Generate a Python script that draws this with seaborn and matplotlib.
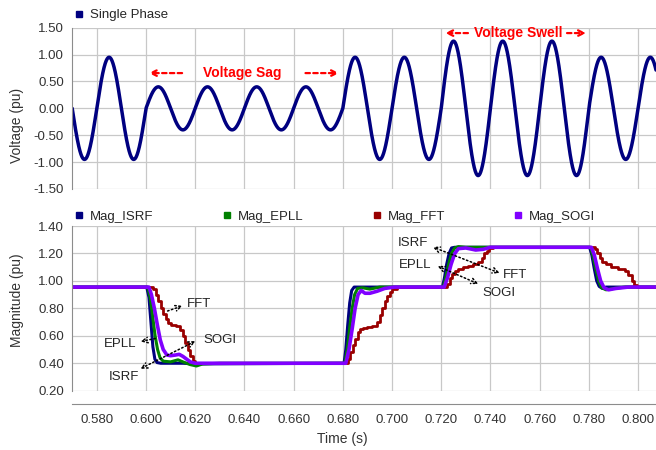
import numpy as np
import matplotlib.pyplot as plt
import seaborn as sns
from matplotlib.lines import Line2D

sns.set_style("white")
plt.rcParams['font.family'] = ['Liberation Sans', 'DejaVu Sans']

# single phase voltage: 50 Hz, amplitude per segment
freq = 50
seg_start = [0.570, 0.600, 0.680, 0.720, 0.780]
seg_amp = [0.95, 0.40, 0.95, 1.25, 0.95]

# magnitude estimates (breakpoints)
t_isrf = [0.570, 0.6003, 0.6012, 0.6020, 0.6028, 0.6036, 0.6045, 0.6060, 0.6150, 0.6200,
          0.6805, 0.6812, 0.6820, 0.6828, 0.6836, 0.6846, 0.6900,
          0.7205, 0.7213, 0.7222, 0.7232, 0.7242, 0.7255,
          0.7803, 0.7812, 0.7822, 0.7832, 0.7842, 0.7855, 0.7870, 0.8073]
m_isrf = [0.955, 0.955, 0.88, 0.70, 0.52, 0.43, 0.405, 0.40, 0.40, 0.395,
          0.40, 0.50, 0.68, 0.84, 0.93, 0.955, 0.955,
          0.955, 1.02, 1.12, 1.20, 1.24, 1.245,
          1.245, 1.19, 1.09, 1.00, 0.96, 0.945, 0.955, 0.955]

t_epll = [0.570, 0.6007, 0.6017, 0.6027, 0.6037, 0.6047, 0.6057, 0.6070, 0.6100, 0.6130,
          0.6150, 0.6180, 0.6205, 0.6230, 0.6300,
          0.6808, 0.6818, 0.6828, 0.6838, 0.6848, 0.6860, 0.6880, 0.6910, 0.6950,
          0.7208, 0.7218, 0.7230, 0.7242, 0.7255, 0.7270, 0.7300,
          0.7806, 0.7816, 0.7828, 0.7840, 0.7852, 0.7870, 0.7900, 0.7950, 0.8073]
m_epll = [0.955, 0.955, 0.88, 0.74, 0.60, 0.50, 0.44, 0.415, 0.41, 0.425,
          0.41, 0.39, 0.38, 0.395, 0.40,
          0.40, 0.50, 0.66, 0.80, 0.90, 0.945, 0.95, 0.94, 0.955,
          0.955, 1.02, 1.12, 1.20, 1.24, 1.25, 1.245,
          1.245, 1.19, 1.09, 1.00, 0.95, 0.935, 0.945, 0.955, 0.955]

t_fft = [0.570, 0.6025, 0.6030, 0.6040, 0.6050, 0.6060, 0.6070, 0.6080, 0.6090, 0.6100,
         0.6120, 0.6140, 0.6150, 0.6160, 0.6170, 0.6180, 0.6190, 0.6200,
         0.6815, 0.6820, 0.6830, 0.6840, 0.6850, 0.6860, 0.6870, 0.6880, 0.6900, 0.6920,
         0.6940, 0.6950, 0.6960, 0.6970, 0.6980, 0.6990, 0.7000, 0.7020,
         0.7225, 0.7235, 0.7245, 0.7255, 0.7270, 0.7290, 0.7310, 0.7330, 0.7350, 0.7365,
         0.7375, 0.7385, 0.7395, 0.7410,
         0.7825, 0.7835, 0.7845, 0.7855, 0.7870, 0.7890, 0.7920, 0.7945, 0.7960, 0.7975,
         0.7985, 0.7995, 0.8073]
m_fft = [0.955, 0.955, 0.94, 0.90, 0.85, 0.80, 0.76, 0.72, 0.69, 0.68,
         0.67, 0.64, 0.60, 0.55, 0.50, 0.45, 0.42, 0.40,
         0.40, 0.43, 0.48, 0.53, 0.58, 0.63, 0.65, 0.66, 0.665, 0.67,
         0.70, 0.75, 0.80, 0.85, 0.89, 0.92, 0.94, 0.955,
         0.98, 1.02, 1.05, 1.07, 1.09, 1.10, 1.11, 1.12, 1.14, 1.17,
         1.20, 1.22, 1.24, 1.245,
         1.23, 1.20, 1.17, 1.14, 1.12, 1.10, 1.09, 1.07, 1.04, 1.00,
         0.97, 0.955, 0.955]

t_sogi = [0.570, 0.6012, 0.6022, 0.6034, 0.6046, 0.6058, 0.6070, 0.6085, 0.6100, 0.6120,
          0.6135, 0.6150, 0.6165, 0.6180, 0.6200,
          0.6812, 0.6825, 0.6838, 0.6850, 0.6862, 0.6875, 0.6890, 0.6910, 0.6940, 0.6970, 0.7010,
          0.7212, 0.7225, 0.7240, 0.7255, 0.7270, 0.7300, 0.7340, 0.7370, 0.7400,
          0.7810, 0.7822, 0.7835, 0.7848, 0.7862, 0.7880, 0.7910, 0.7960, 0.8073]
m_sogi = [0.955, 0.955, 0.90, 0.80, 0.68, 0.57, 0.50, 0.46, 0.455, 0.46,
          0.465, 0.45, 0.43, 0.41, 0.40,
          0.40, 0.50, 0.65, 0.80, 0.90, 0.93, 0.91, 0.91, 0.925, 0.945, 0.955,
          0.955, 1.02, 1.12, 1.20, 1.235, 1.24, 1.225, 1.23, 1.245,
          1.245, 1.19, 1.09, 1.00, 0.95, 0.935, 0.945, 0.955, 0.955]

names = ["Mag_ISRF", "Mag_EPLL", "Mag_FFT", "Mag_SOGI"]
colors = ["#000080", "#008000", "#990000", "#8000FF"]

x_ticks = np.arange(0.58, 0.801, 0.02)
grid_c = "#c8c8c8"
spine_c = "#8c8c8c"
txt_c = "#333333"

t = np.linspace(0.570, 0.8073, 4000)
amp = np.array(seg_amp)[np.searchsorted(seg_start, t, side="right") - 1]
volt = amp * np.sin(2 * np.pi * freq * t)

fig = plt.figure(figsize=(6.56, 4.5), dpi=100)
ax1 = fig.add_axes([72.2 / 656, 1 - 189 / 450, 583.8 / 656, (189 - 27.7) / 450])
ax2 = fig.add_axes([72.2 / 656, 1 - 390.7 / 450, 583.8 / 656, (390.7 - 226) / 450])

# top: voltage
sns.lineplot(x=t, y=volt, ax=ax1, color="#000080", lw=2.5, estimator=None, sort=False)
ax1.set_xlim(0.570, 0.8073)
ax1.set_ylim(-1.5, 1.5)
ax1.set_yticks(np.arange(-1.5, 1.51, 0.5))
ax1.set_yticklabels([f"{v:.2f}" for v in np.arange(-1.5, 1.51, 0.5)])
ax1.set_xticks(x_ticks)
ax1.set_xticklabels([])
ax1.tick_params(axis="x", length=0)
ax1.set_ylabel("Voltage (pu)", fontsize=10, color=txt_c)
ax1.yaxis.set_label_coords(-0.082, 0.397)
ax1.legend(handles=[Line2D([], [], marker="s", ls="", color="#000080", markersize=5)],
           labels=["Single Phase"], loc="center left", bbox_to_anchor=(0.003, 1.078),
           frameon=False, fontsize=9.5, handlelength=0.8, handletextpad=0.4,
           borderpad=0, borderaxespad=0)

ax1.text(0.6393, 0.656, "Voltage Sag", color="red", fontsize=10, fontweight="bold",
         ha="center", va="center")
sag_arrow = dict(arrowstyle="->", ls=(0, (2, 1.5)), color="red", lw=1.6)
ax1.annotate("", xy=(0.6000, 0.656), xytext=(0.6158, 0.656), arrowprops=sag_arrow)
ax1.annotate("", xy=(0.6796, 0.656), xytext=(0.6637, 0.656), arrowprops=sag_arrow)
ax1.text(0.7512, 1.40, "Voltage Swell", color="red", fontsize=10, fontweight="bold",
         ha="center", va="center")
ax1.annotate("", xy=(0.7205, 1.40), xytext=(0.7320, 1.40), arrowprops=sag_arrow)
ax1.annotate("", xy=(0.7800, 1.40), xytext=(0.7700, 1.40), arrowprops=sag_arrow)

# bottom: magnitudes
series = [(t_isrf, m_isrf), (t_epll, m_epll), (t_fft, m_fft), (t_sogi, m_sogi)]
for (tx, my), name, c in zip(series, names, colors):
    if name == "Mag_FFT":
        sns.lineplot(x=tx, y=my, ax=ax2, color=c, lw=2.0, estimator=None, sort=False,
                     drawstyle="steps-post")
    else:
        sns.lineplot(x=tx, y=my, ax=ax2, color=c, lw=2.2 if name != "Mag_SOGI" else 2.6,
                     estimator=None, sort=False)
ax2.set_xlim(0.570, 0.8073)
ax2.set_ylim(0.2, 1.4)
ax2.set_yticks(np.arange(0.2, 1.41, 0.2))
ax2.set_yticklabels([f"{v:.2f}" for v in np.arange(0.2, 1.41, 0.2)])
ax2.set_xticks(x_ticks)
ax2.set_xticklabels([f"{v:.3f}" for v in x_ticks])
ax2.set_ylabel("Magnitude (pu)", fontsize=10, color=txt_c)
ax2.yaxis.set_label_coords(-0.082, 0.551)
ax2.set_xlabel("Time (s)", fontsize=10, color=txt_c)
ax2.xaxis.set_label_coords(0.462, -0.25)
ax2.legend(handles=[Line2D([], [], marker="s", ls="", color=c, markersize=5) for c in colors],
           labels=names, loc="lower left", bbox_to_anchor=(0.003, 1.02, 0.893, 0.08),
           mode="expand", ncol=4, frameon=False, fontsize=9.5, handlelength=0.8,
           handletextpad=0.4, borderpad=0, borderaxespad=0)

lab = dict(fontsize=9.5, color="#222222", va="center")
one = dict(arrowstyle="->", ls=":", color="black", lw=1.1)
two = dict(arrowstyle="<->", ls=":", color="black", lw=1.1)
ax2.annotate("", xy=(0.6159, 0.825), xytext=(0.6077, 0.774), arrowprops=one)
ax2.text(0.6167, 0.832, "FFT", ha="left", **lab)
ax2.annotate("", xy=(0.5967, 0.555), xytext=(0.6049, 0.584), arrowprops=one)
ax2.text(0.5959, 0.541, "EPLL", ha="right", **lab)
ax2.annotate("", xy=(0.5967, 0.351), xytext=(0.6211, 0.570), arrowprops=two)
ax2.text(0.5911, 0.300, "ISRF", ha="center", **lab)
ax2.text(0.6232, 0.570, "SOGI", ha="left", **lab)
ax2.annotate("", xy=(0.7155, 1.254), xytext=(0.7448, 1.050), arrowprops=two)
ax2.text(0.7147, 1.276, "ISRF", ha="right", **lab)
ax2.text(0.7452, 1.043, "FFT", ha="left", **lab)
ax2.annotate("", xy=(0.7175, 1.116), xytext=(0.7361, 0.970), arrowprops=two)
ax2.text(0.7160, 1.116, "EPLL", ha="right", **lab)
ax2.text(0.7366, 0.912, "SOGI", ha="left", **lab)

for ax in (ax1, ax2):
    ax.grid(True, color=grid_c, lw=0.9)
    ax.set_axisbelow(True)
    ax.tick_params(axis="y", length=4, color=spine_c, labelsize=9.5, labelcolor=txt_c, pad=2)
    for s in ax.spines.values():
        s.set_color(spine_c)
ax2.tick_params(axis="x", length=4, color=spine_c, labelsize=9.5, labelcolor=txt_c, pad=3)
sns.despine(ax=ax1, bottom=True)
sns.despine(ax=ax2, offset={"bottom": 9.5})

fig.savefig("out.png", dpi=100)
